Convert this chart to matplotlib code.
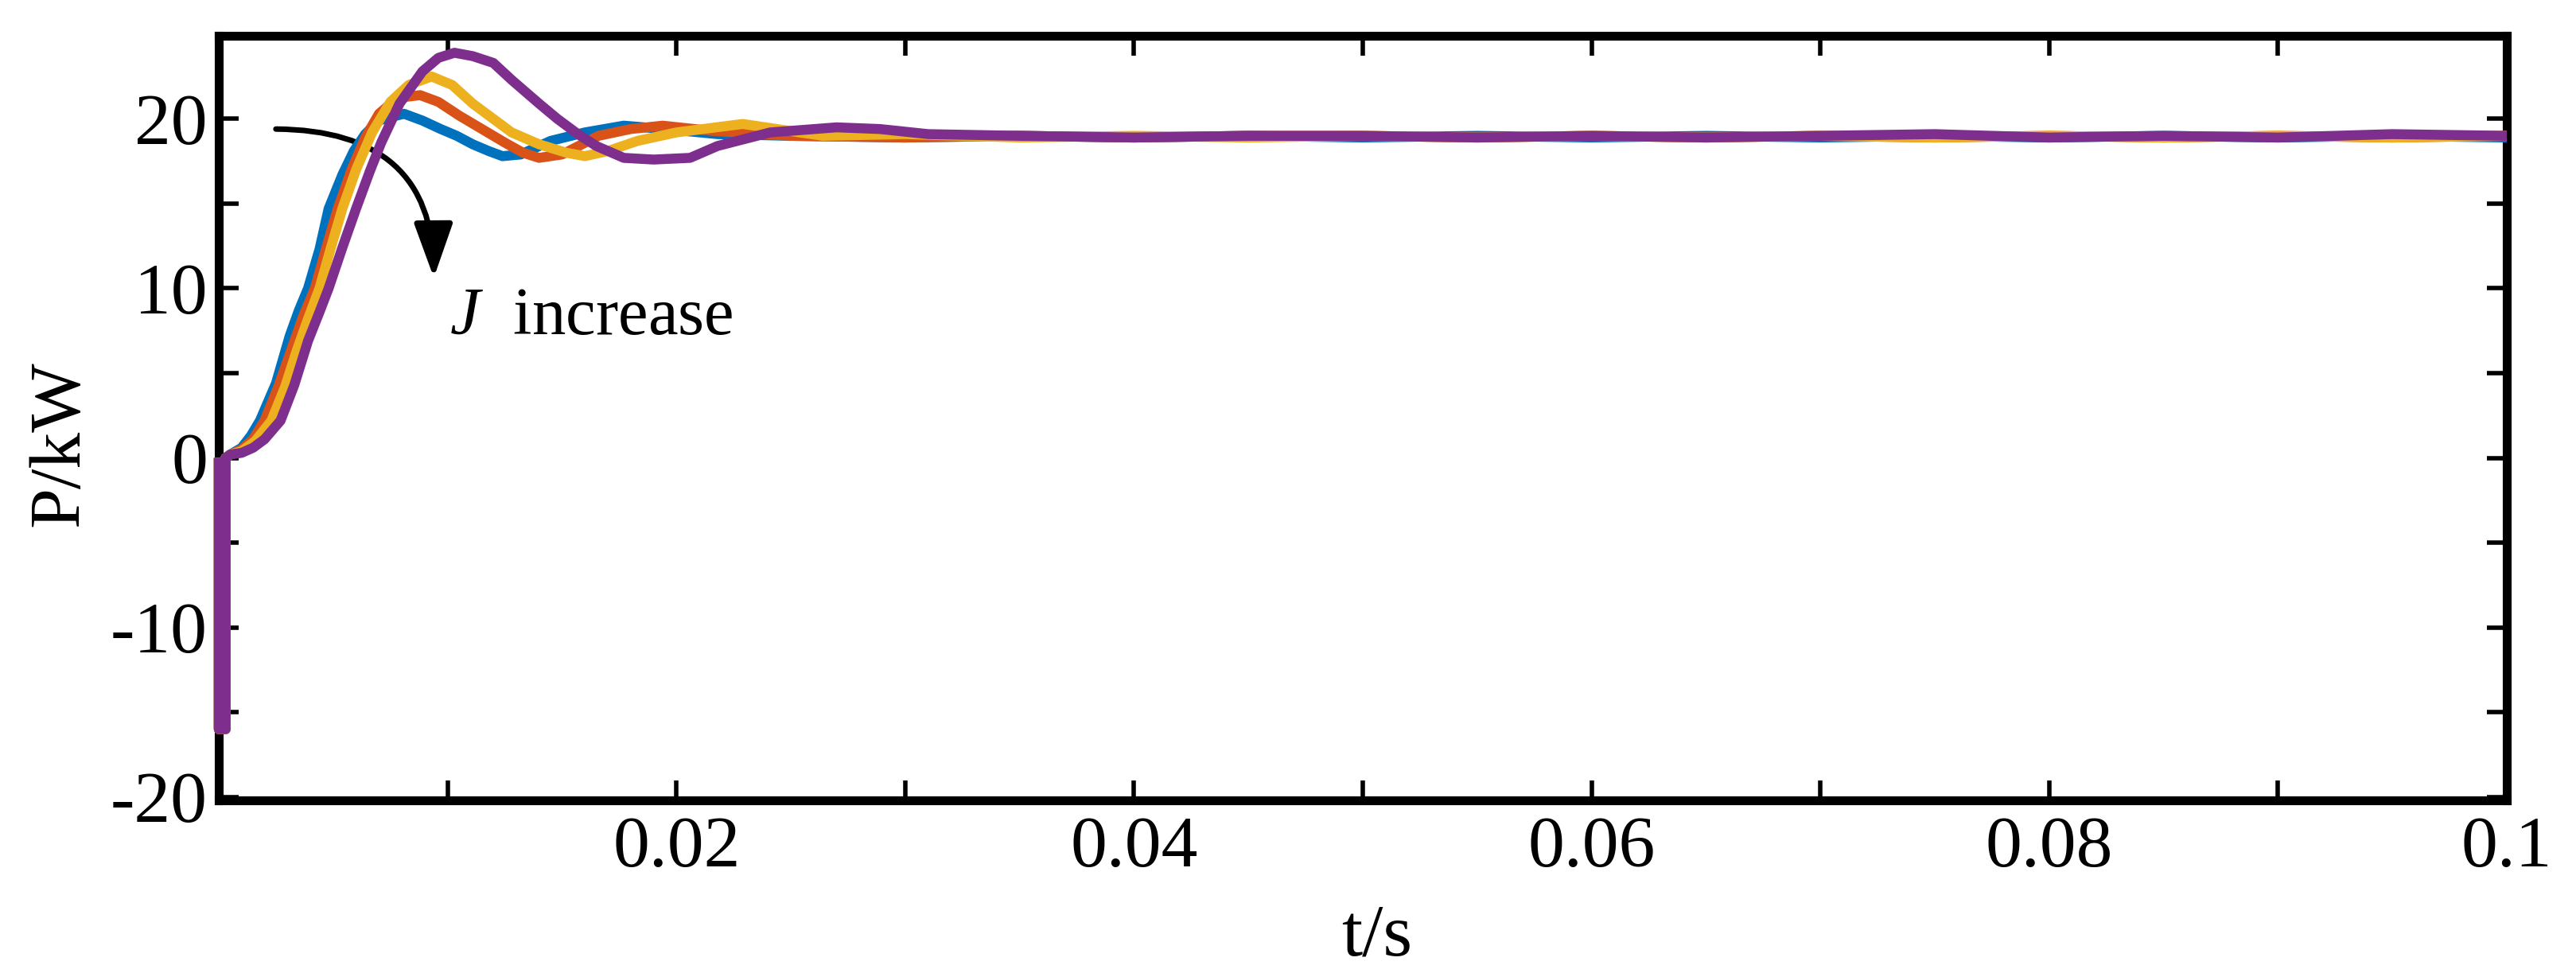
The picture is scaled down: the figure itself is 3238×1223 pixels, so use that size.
import numpy as np
import matplotlib
matplotlib.use('Agg')
from matplotlib import pyplot as plt
from matplotlib.patches import FancyArrowPatch

plt.rcParams['font.family'] = ['Liberation Serif', 'DejaVu Serif']
plt.rcParams['mathtext.fontset'] = 'custom'
plt.rcParams['mathtext.it'] = 'Liberation Serif:italic'
plt.rcParams['mathtext.rm'] = 'Liberation Serif'

# power response for four inertia values (t in s, P in kW)
t_blue = [0, 0, 0.0003, 0.0003, 0.0005, 0.0010, 0.0014, 0.0018, 0.0025, 0.0031, 0.0035, 0.0039,
          0.0044, 0.0048, 0.0054, 0.0059, 0.0064, 0.0070, 0.0075, 0.0081, 0.0089, 0.0097, 0.0104,
          0.0111, 0.0118, 0.0124, 0.0132, 0.0145, 0.0160, 0.0177, 0.0195, 0.0218, 0.0250, 0.0300,
          0.0350, 0.0400, 0.0450, 0.0500, 0.0550, 0.0600, 0.0650, 0.0700, 0.0750, 0.0800, 0.0850,
          0.0900, 0.0950, 0.1000]
p_blue = [0, -16, -16, 0, 0.2, 0.6, 1.3, 2.2, 4.4, 7.2, 8.7, 10.0,
          12.3, 14.7, 16.7, 18.1, 19.1, 19.9, 20.1, 20.3, 19.9, 19.4, 19.0,
          18.5, 18.1, 17.8, 17.9, 18.7, 19.2, 19.6, 19.4, 19.1, 19.0, 18.9,
          19.0, 18.9, 19.0, 18.9, 19.0, 18.9, 19.0, 18.9, 19.0, 18.9, 19.0,
          18.9, 19.0, 18.9]

t_orange = [0, 0, 0.0003, 0.0003, 0.0005, 0.0010, 0.0015, 0.0020, 0.0026, 0.0032, 0.0037, 0.0042,
            0.0047, 0.0052, 0.0058, 0.0064, 0.0070, 0.0076, 0.0082, 0.0088, 0.0096, 0.0105, 0.0115,
            0.0125, 0.0133, 0.0140, 0.0150, 0.0166, 0.0180, 0.0194, 0.0215, 0.0250, 0.0300, 0.0350,
            0.0400, 0.0450, 0.0500, 0.0550, 0.0600, 0.0650, 0.0700, 0.0750, 0.0800, 0.0850, 0.0900,
            0.0950, 0.1000]
p_orange = [0, -16, -16, 0, 0.2, 0.5, 1.1, 2.2, 4.2, 6.5, 8.4, 10.0,
            12.4, 14.7, 17.0, 18.9, 20.3, 21.0, 21.3, 21.4, 21.0, 20.2, 19.4,
            18.6, 18.0, 17.7, 17.9, 19.0, 19.4, 19.6, 19.3, 19.0, 18.9, 19.0,
            18.9, 19.0, 19.0, 18.9, 19.0, 18.9, 19.0, 18.9, 19.0, 18.9, 19.0,
            18.9, 19.0]

t_yellow = [0, 0, 0.0003, 0.0003, 0.0005, 0.0010, 0.0016, 0.0023, 0.0029, 0.0034, 0.0039, 0.0044,
            0.0049, 0.0054, 0.0060, 0.0067, 0.0075, 0.0083, 0.0093, 0.0102, 0.0111, 0.0120, 0.0128,
            0.0140, 0.0152, 0.0160, 0.0170, 0.0183, 0.0200, 0.0229, 0.0264, 0.0300, 0.0350, 0.0400,
            0.0450, 0.0500, 0.0550, 0.0600, 0.0650, 0.0700, 0.0750, 0.0800, 0.0850, 0.0900, 0.0950,
            0.1000]
p_yellow = [0, -16, -16, 0, 0.2, 0.4, 1.0, 2.2, 4.2, 6.3, 8.2, 10.0,
            12.4, 14.7, 17.0, 19.2, 21.0, 22.0, 22.5, 22.0, 20.9, 20.0, 19.2,
            18.5, 18.0, 17.8, 18.1, 18.7, 19.2, 19.7, 19.0, 19.1, 18.9, 19.0,
            18.9, 19.0, 18.9, 19.0, 18.9, 19.0, 18.9, 19.0, 18.9, 19.0, 18.9,
            19.0]

t_purple = [0, 0, 0.0003, 0.0003, 0.0005, 0.0010, 0.0015, 0.0020, 0.0027, 0.0033, 0.0039, 0.0044,
            0.0048, 0.0054, 0.0060, 0.0066, 0.0071, 0.0079, 0.0089, 0.0096, 0.0103, 0.0111, 0.0120,
            0.0128, 0.0140, 0.0148, 0.0157, 0.0165, 0.0177, 0.0190, 0.0206, 0.0218, 0.0241, 0.0270,
            0.0289, 0.0310, 0.0350, 0.0400, 0.0450, 0.0500, 0.0550, 0.0600, 0.0650, 0.0700, 0.0750,
            0.0800, 0.0850, 0.0900, 0.0950, 0.1000]
p_purple = [0, -16, -16, 0, 0.2, 0.3, 0.6, 1.1, 2.2, 4.3, 6.9, 8.6,
            10.0, 12.4, 14.7, 16.9, 18.6, 20.9, 22.8, 23.6, 23.9, 23.7, 23.3,
            22.3, 20.9, 20.0, 19.1, 18.4, 17.7, 17.6, 17.7, 18.4, 19.2, 19.5,
            19.4, 19.1, 19.0, 18.9, 19.0, 19.0, 18.9, 19.0, 18.9, 19.0, 19.1,
            18.9, 19.0, 18.9, 19.1, 19.0]

series = [(t_blue, p_blue, '#0072BD'),
          (t_orange, p_orange, '#D95319'),
          (t_yellow, p_yellow, '#EDB120'),
          (t_purple, p_purple, '#7E2F8E')]

x_ticks = [0.01, 0.02, 0.03, 0.04, 0.05, 0.06, 0.07, 0.08, 0.09, 0.1]
x_labels = ['', '0.02', '', '0.04', '', '0.06', '', '0.08', '', '0.1']
y_ticks = [-20, -15, -10, -5, 0, 5, 10, 15, 20]
y_labels = ['-20', '', '-10', '', '0', '', '10', '', '20']

W, H = 3238, 1223
fig = plt.figure(figsize=(W / 100, H / 100), dpi=100)
ax = fig.add_axes([275 / W, 1 - 1006 / H, (3151 - 275) / W, (1006 - 45) / H])

# lines sit over the left spine like in the original export
for t, p, c in series:
    ax.plot(t, p, color=c, lw=9, solid_joinstyle='round', solid_capstyle='butt',
            clip_on=False, zorder=3)

ax.set_xlim(0, 0.1)
ax.set_ylim(-20.2, 24.9)
ax.set_xticks(x_ticks)
ax.set_xticklabels(x_labels)
ax.set_yticks(y_ticks)
ax.set_yticklabels(y_labels)
ax.tick_params(direction='in', length=18, width=4, top=True, right=True,
               labelsize=66, color='black')
ax.tick_params(axis='x', pad=14)
ax.tick_params(axis='y', pad=10)
for s in ax.spines.values():
    s.set_linewidth(8)

ax.set_xlabel('t/s', fontsize=68)
ax.xaxis.set_label_coords(0.506, -0.135)
ax.set_ylabel('P/kW', fontsize=66)
ax.yaxis.set_label_coords(-0.055, 0.466)

arrow = FancyArrowPatch((0.0024, 19.4), (0.0094, 10.5),
                        connectionstyle='angle3,angleA=0,angleB=90',
                        arrowstyle='-|>,head_length=0.42,head_width=0.15',
                        mutation_scale=100, lw=5, color='black')
ax.add_patch(arrow)
ax.text(0.0101, 7.3, r'$J$  increase', fontsize=61, va='baseline', ha='left')

fig.savefig('out.png', dpi=100)
